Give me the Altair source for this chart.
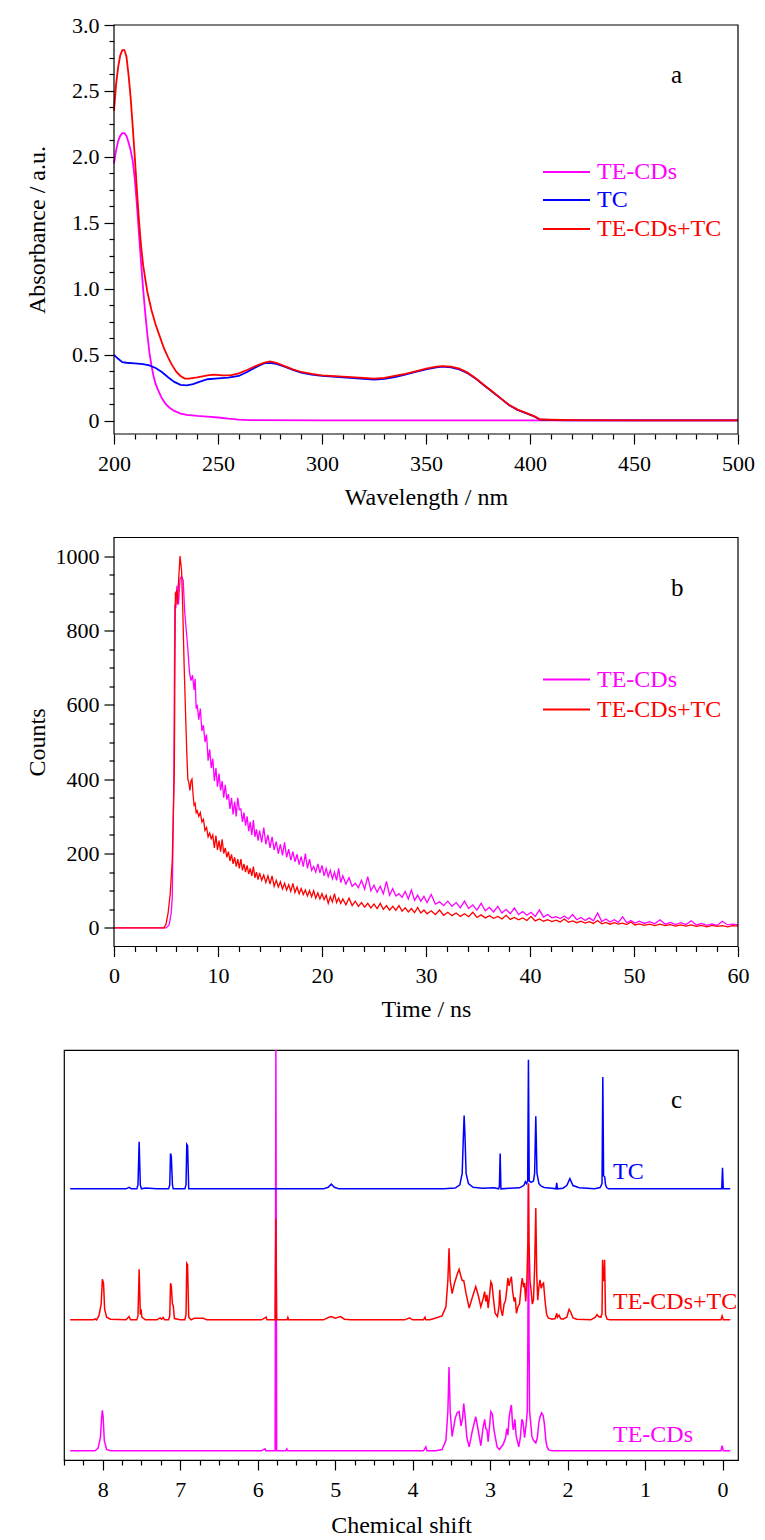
import altair as alt
import pandas as pd

FONT = "Liberation Serif"
MAGENTA = "#FF00FF"
BLUE = "#0000FF"
RED = "#FF0000"

# ---------------- panel a: UV-vis absorbance (wavelength nm, absorbance) ----------------
abs_tecds = [(200, 1.95), (201, 2.05), (202, 2.12), (203, 2.16), (204, 2.18), (205, 2.18), (206, 2.16),
             (207, 2.11), (208, 2.05), (209, 1.97), (210, 1.83), (211, 1.64), (212, 1.42), (213, 1.2),
             (214, 1.0), (215, 0.82), (216, 0.66), (217, 0.52), (218, 0.42), (219, 0.34), (220, 0.28),
             (221, 0.24), (223, 0.17), (225, 0.125), (227, 0.095), (229, 0.075), (232, 0.055), (235, 0.045),
             (240, 0.037), (245, 0.031), (250, 0.025), (255, 0.016), (260, 0.009), (265, 0.005), (300, 0.004),
             (500, 0.004)]
abs_tc = [(200, 0.50), (202, 0.47), (204, 0.445), (206, 0.44), (210, 0.435), (214, 0.43), (217, 0.42),
          (220, 0.40), (223, 0.37), (226, 0.33), (229, 0.295), (232, 0.272), (235, 0.268), (238, 0.278),
          (241, 0.295), (245, 0.315), (250, 0.322), (255, 0.328), (260, 0.34), (264, 0.37), (268, 0.405),
          (272, 0.435), (275, 0.44), (278, 0.432), (282, 0.41), (286, 0.385), (290, 0.365), (295, 0.35),
          (300, 0.34), (310, 0.33), (320, 0.318), (325, 0.312), (330, 0.318), (335, 0.332), (340, 0.35),
          (345, 0.37), (350, 0.39), (355, 0.405), (358, 0.41), (362, 0.405), (366, 0.39), (370, 0.36),
          (374, 0.318), (378, 0.268), (382, 0.218), (386, 0.168), (390, 0.118), (394, 0.083), (398, 0.058),
          (402, 0.033), (405, 0.008), (410, 0.006), (420, 0.004), (450, 0.003), (500, 0.003)]
abs_mix = [(200, 2.35), (201, 2.55), (202, 2.68), (203, 2.77), (204, 2.81), (205, 2.81), (206, 2.76),
           (207, 2.62), (208, 2.45), (209, 2.23), (210, 2.0), (211, 1.75), (212, 1.52), (213, 1.33),
           (214, 1.18), (216, 0.98), (218, 0.84), (220, 0.73), (222, 0.64), (224, 0.55), (226, 0.48),
           (228, 0.42), (230, 0.37), (232, 0.34), (234, 0.32), (236, 0.32), (240, 0.33), (245, 0.345),
           (248, 0.35), (252, 0.345), (256, 0.345), (260, 0.36), (264, 0.385), (268, 0.415), (272, 0.44),
           (275, 0.45), (278, 0.44), (282, 0.415), (286, 0.39), (290, 0.37), (295, 0.355), (300, 0.345),
           (310, 0.335), (320, 0.325), (325, 0.32), (330, 0.325), (335, 0.34), (340, 0.355), (345, 0.375),
           (350, 0.395), (355, 0.41), (358, 0.415), (362, 0.41), (366, 0.395), (370, 0.365), (374, 0.32),
           (378, 0.27), (382, 0.22), (386, 0.17), (390, 0.12), (394, 0.085), (398, 0.06), (402, 0.035),
           (405, 0.01), (410, 0.008), (420, 0.005), (450, 0.004), (500, 0.004)]

# ---------------- panel b: fluorescence decay (time ns, counts) ----------------
decay_tecds = [(0, 0), (2.5, 0), (5.0, 0), (5.3, 8), (5.5, 40), (5.6, 80), (5.75, 400), (5.85, 870),
               (5.95, 860), (6.05, 920), (6.2, 870), (6.35, 940), (6.5, 945), (6.65, 935), (6.8, 850),
               (6.95, 800), (7.1, 750), (7.25, 690), (7.4, 665), (7.55, 680), (7.7, 640), (7.8, 670),
               (7.9, 590), (8.0, 600), (8.15, 560), (8.3, 590), (8.45, 530), (8.6, 545), (8.75, 500),
               (8.9, 520), (9.05, 450), (9.2, 480), (9.35, 430), (9.5, 455), (9.65, 395), (9.8, 430),
               (9.95, 380), (10.1, 415), (10.25, 370), (10.4, 395), (10.55, 350), (10.7, 385), (10.85, 345),
               (11.0, 360), (11.15, 320), (11.3, 350), (11.45, 305), (11.6, 340), (11.75, 300), (11.9, 350),
               (12.05, 318), (12.2, 320), (12.35, 285), (12.5, 310), (12.65, 275), (12.8, 300), (12.95, 260),
               (13.1, 285), (13.25, 250), (13.4, 290), (13.55, 245), (13.7, 265), (13.85, 235), (14.0, 262),
               (14.2, 230), (14.4, 270), (14.6, 225), (14.8, 250), (15.0, 215), (15.2, 245), (15.4, 210),
               (15.6, 232), (15.8, 200), (16.0, 225), (16.2, 195), (16.4, 230), (16.6, 190), (16.8, 212),
               (17.0, 182), (17.2, 205), (17.4, 178), (17.6, 198), (17.8, 170), (18.0, 192), (18.2, 165),
               (18.4, 200), (18.6, 160), (18.8, 185), (19.0, 155), (19.2, 165), (19.4, 150), (19.6, 172),
               (19.8, 148), (20.0, 168), (20.2, 140), (20.4, 160), (20.6, 138), (20.8, 155), (21.0, 132),
               (21.2, 150), (21.4, 128), (21.6, 160), (21.8, 122), (22.0, 140), (22.3, 118), (22.6, 135),
               (22.9, 112), (23.2, 120), (23.5, 108), (23.8, 128), (24.1, 104), (24.4, 138), (24.7, 100),
               (25.0, 115), (25.3, 96), (25.6, 112), (25.9, 92), (26.2, 125), (26.5, 88), (26.8, 106),
               (27.1, 86), (27.4, 92), (27.7, 82), (28.0, 98), (28.3, 78), (28.6, 102), (28.9, 74),
               (29.2, 88), (29.5, 72), (29.8, 85), (30.1, 68), (30.5, 90), (30.9, 64), (31.3, 70),
               (31.7, 60), (32.1, 72), (32.5, 58), (32.9, 68), (33.3, 54), (33.7, 72), (34.1, 52),
               (34.5, 62), (34.9, 48), (35.3, 66), (35.7, 46), (36.1, 55), (36.5, 43), (36.9, 58),
               (37.3, 40), (37.7, 50), (38.1, 38), (38.5, 54), (38.9, 36), (39.3, 44), (39.7, 34),
               (40.1, 42), (40.5, 31), (40.9, 48), (41.3, 29), (41.7, 36), (42.1, 27), (42.5, 30),
               (42.9, 25), (43.3, 32), (43.7, 24), (44.1, 36), (44.5, 22), (44.9, 28), (45.3, 20),
               (45.7, 27), (46.1, 19), (46.5, 40), (46.9, 17), (47.3, 24), (47.7, 16), (48.1, 22),
               (48.5, 15), (48.9, 30), (49.3, 14), (49.7, 20), (50.1, 13), (50.5, 18), (51.0, 12),
               (51.5, 17), (52.0, 11), (52.5, 22), (53.0, 10), (53.5, 15), (54.0, 9), (54.5, 14), (55.0, 9),
               (55.5, 19), (56.0, 8), (56.5, 12), (57.0, 7), (57.5, 11), (58.0, 7), (58.5, 18), (59.0, 8),
               (59.5, 10), (60.0, 8)]
decay_mix = [(0, 0), (2.5, 0), (4.8, 0), (5.0, 10), (5.2, 40), (5.4, 90), (5.6, 180), (5.8, 420),
             (5.9, 900), (6.0, 905), (6.1, 870), (6.2, 930), (6.35, 1000), (6.5, 960), (6.6, 870),
             (6.75, 700), (6.9, 560), (7.0, 470), (7.1, 400), (7.2, 390), (7.3, 370), (7.4, 395),
             (7.5, 400), (7.6, 360), (7.7, 330), (7.8, 335), (7.9, 310), (8.0, 315), (8.15, 300),
             (8.3, 310), (8.45, 285), (8.6, 292), (8.75, 262), (8.9, 270), (9.05, 245), (9.2, 255),
             (9.35, 240), (9.5, 250), (9.65, 215), (9.8, 248), (9.95, 210), (10.1, 235), (10.25, 205),
             (10.4, 238), (10.55, 200), (10.7, 215), (10.85, 190), (11.0, 205), (11.15, 180), (11.3, 198),
             (11.45, 172), (11.6, 190), (11.75, 165), (11.9, 185), (12.05, 160), (12.2, 185), (12.35, 155),
             (12.5, 172), (12.65, 150), (12.8, 168), (12.95, 145), (13.1, 160), (13.25, 140), (13.4, 165),
             (13.55, 135), (13.7, 150), (13.85, 130), (14.0, 148), (14.2, 128), (14.4, 142), (14.6, 122),
             (14.8, 140), (15.0, 118), (15.2, 140), (15.4, 112), (15.6, 128), (15.8, 110), (16.0, 124),
             (16.2, 105), (16.4, 120), (16.6, 102), (16.8, 116), (17.0, 98), (17.2, 120), (17.4, 95),
             (17.6, 110), (17.8, 92), (18.0, 106), (18.2, 90), (18.4, 102), (18.6, 86), (18.8, 100),
             (19.0, 84), (19.2, 100), (19.4, 80), (19.6, 94), (19.8, 78), (20.0, 92), (20.2, 76),
             (20.4, 88), (20.6, 66), (20.8, 84), (21.0, 70), (21.2, 92), (21.4, 68), (21.6, 80),
             (21.8, 66), (22.0, 78), (22.3, 62), (22.6, 80), (22.9, 60), (23.2, 72), (23.5, 58),
             (23.8, 68), (24.1, 56), (24.4, 66), (24.7, 54), (25.0, 64), (25.3, 52), (25.6, 66),
             (25.9, 50), (26.2, 60), (26.5, 48), (26.8, 58), (27.1, 47), (27.4, 60), (27.7, 45),
             (28.0, 54), (28.3, 43), (28.6, 52), (28.9, 41), (29.2, 55), (29.5, 40), (29.8, 48),
             (30.1, 38), (30.5, 46), (30.9, 36), (31.3, 48), (31.7, 34), (32.1, 42), (32.5, 33),
             (32.9, 40), (33.3, 31), (33.7, 38), (34.1, 30), (34.5, 42), (34.9, 28), (35.3, 35),
             (35.7, 27), (36.1, 33), (36.5, 26), (36.9, 31), (37.3, 24), (37.7, 34), (38.1, 23),
             (38.5, 28), (38.9, 22), (39.3, 27), (39.7, 20), (40.1, 31), (40.5, 19), (40.9, 24),
             (41.3, 18), (41.7, 22), (42.1, 17), (42.5, 21), (42.9, 16), (43.3, 24), (43.7, 15),
             (44.1, 19), (44.5, 14), (44.9, 18), (45.3, 13), (45.7, 17), (46.1, 12), (46.5, 20),
             (46.9, 11), (47.3, 15), (47.7, 10), (48.1, 14), (48.5, 10), (48.9, 13), (49.3, 9),
             (49.7, 16), (50.1, 8), (50.5, 11), (51.0, 7), (51.5, 10), (52.0, 6), (52.5, 10), (53.0, 6),
             (53.5, 9), (54.0, 5), (54.5, 8), (55.0, 5), (55.5, 8), (56.0, 4), (56.5, 7), (57.0, 3),
             (57.5, 7), (58.0, 4), (58.5, 6), (59.0, 3), (59.5, 6), (60.0, 5)]

# ---------------- panel c: 1H NMR (ppm, intensity above own baseline) ----------------
nmr_tc = [(8.42, 0.0), (7.70, 0.0), (7.66, 0.012), (7.63, 0.0), (7.56, 0.0), (7.545, 0.03), (7.53, 0.36),
          (7.515, 0.03), (7.50, 0.0), (7.45, 0.006), (7.30, 0.0), (7.15, 0.0), (7.135, 0.03), (7.125, 0.27),
          (7.115, 0.25), (7.10, 0.03), (7.09, 0.0), (6.94, 0.0), (6.925, 0.03), (6.915, 0.34), (6.905, 0.33),
          (6.89, 0.0), (5.15, 0.0), (5.09, 0.012), (5.05, 0.036), (5.01, 0.012), (4.95, 0.0), (3.60, 0.0),
          (3.45, 0.006), (3.39, 0.03), (3.36, 0.12), (3.345, 0.40), (3.335, 0.56), (3.325, 0.42), (3.31, 0.12),
          (3.28, 0.04), (3.22, 0.012), (3.10, 0.005), (2.95, 0.008), (2.89, 0.0), (2.88, 0.02), (2.87, 0.27),
          (2.86, 0.0), (2.75, 0.005), (2.62, 0.008), (2.58, 0.02), (2.56, 0.03), (2.545, 0.055), (2.53, 0.04),
          (2.515, 0.06), (2.505, 0.985), (2.495, 0.06), (2.47, 0.05), (2.44, 0.06), (2.425, 0.12),
          (2.41, 0.555), (2.395, 0.12), (2.37, 0.04), (2.34, 0.02), (2.30, 0.01), (2.20, 0.005), (2.15, 0.0),
          (2.14, 0.045), (2.13, 0.0), (2.06, 0.005), (2.01, 0.025), (1.97, 0.078), (1.93, 0.025), (1.85, 0.008),
          (1.65, 0.0), (1.58, 0.01), (1.555, 0.04), (1.545, 0.853), (1.535, 0.1), (1.52, 0.09), (1.51, 0.03),
          (1.495, 0.01), (1.47, 0.0), (0.02, 0.0), (0.01, 0.0), (0.0, 0.16), (-0.01, 0.0), (-0.10, 0.0)]
nmr_mix = [(8.42, 0.0), (8.12, 0.0), (8.10, 0.008), (8.08, 0.0), (8.05, 0.03), (8.02, 0.12), (8.005, 0.31),
           (7.99, 0.28), (7.975, 0.08), (7.95, 0.02), (7.90, 0.005), (7.70, 0.0), (7.66, 0.025), (7.64, 0.0),
           (7.56, 0.0), (7.545, 0.03), (7.53, 0.386), (7.515, 0.04), (7.505, 0.08), (7.495, 0.02), (7.45, 0.0),
           (7.30, 0.0), (7.26, 0.015), (7.24, 0.005), (7.22, 0.018), (7.20, 0.0), (7.15, 0.0), (7.135, 0.03),
           (7.125, 0.28), (7.115, 0.26), (7.10, 0.12), (7.09, 0.11), (7.075, 0.01), (7.0, 0.0), (6.94, 0.0),
           (6.925, 0.04), (6.915, 0.43), (6.905, 0.42), (6.89, 0.02), (6.86, 0.0), (6.82, 0.012), (6.70, 0.012),
           (6.66, 0.0), (5.95, 0.0), (5.89, 0.02), (5.88, 0.0), (5.775, 0.0), (5.765, 0.776), (5.755, 0.0),
           (5.62, 0.0), (5.61, 0.018), (5.60, 0.0), (5.15, 0.0), (5.08, 0.02), (5.05, 0.025), (5.0, 0.012),
           (4.93, 0.025), (4.88, 0.005), (4.80, 0.0), (4.10, 0.0), (4.04, 0.015), (4.00, 0.0), (3.86, 0.0),
           (3.84, 0.02), (3.83, 0.0), (3.78, 0.0), (3.72, 0.01), (3.62, 0.03), (3.57, 0.1), (3.545, 0.30),
           (3.53, 0.547), (3.515, 0.3), (3.49, 0.2), (3.46, 0.28), (3.42, 0.356), (3.40, 0.385), (3.38, 0.34),
           (3.36, 0.3), (3.34, 0.3), (3.31, 0.2), (3.27, 0.09), (3.23, 0.17), (3.185, 0.254), (3.15, 0.18),
           (3.12, 0.1), (3.09, 0.16), (3.07, 0.216), (3.055, 0.14), (3.04, 0.19), (3.025, 0.09), (3.005, 0.2),
           (2.99, 0.29), (2.975, 0.27), (2.955, 0.15), (2.935, 0.05), (2.905, 0.025), (2.885, 0.1),
           (2.875, 0.23), (2.86, 0.08), (2.84, 0.03), (2.82, 0.12), (2.80, 0.15), (2.785, 0.23), (2.77, 0.318),
           (2.755, 0.26), (2.74, 0.3), (2.725, 0.33), (2.71, 0.22), (2.69, 0.14), (2.675, 0.17), (2.66, 0.05),
           (2.64, 0.1), (2.62, 0.12), (2.60, 0.25), (2.585, 0.318), (2.57, 0.26), (2.555, 0.28), (2.54, 0.14),
           (2.525, 0.3), (2.512, 0.6), (2.505, 1.04), (2.498, 0.6), (2.485, 0.3), (2.47, 0.22), (2.455, 0.12),
           (2.44, 0.15), (2.425, 0.4), (2.41, 0.853), (2.398, 0.35), (2.385, 0.15), (2.37, 0.25),
           (2.356, 0.305), (2.34, 0.24), (2.325, 0.27), (2.31, 0.28), (2.29, 0.14), (2.27, 0.04),
           (2.25, 0.015), (2.20, 0.005), (2.16, 0.01), (2.15, 0.03), (2.14, 0.05), (2.13, 0.02), (2.11, 0.035),
           (2.09, 0.01), (2.06, 0.005), (2.01, 0.02), (1.98, 0.08), (1.96, 0.06), (1.93, 0.015), (1.88, 0.005),
           (1.70, 0.0), (1.64, 0.02), (1.62, 0.04), (1.60, 0.025), (1.57, 0.02), (1.555, 0.05), (1.548, 0.458),
           (1.54, 0.3), (1.53, 0.3), (1.522, 0.458), (1.51, 0.04), (1.49, 0.005), (1.45, 0.0), (0.02, 0.0),
           (0.005, 0.03), (-0.01, 0.0), (-0.10, 0.0)]
nmr_tecds = [(8.42, 0.0), (8.10, 0.0), (8.06, 0.02), (8.03, 0.1), (8.015, 0.25), (8.005, 0.31), (7.995, 0.26),
             (7.98, 0.08), (7.95, 0.01), (7.90, 0.0), (5.95, 0.0), (5.905, 0.015), (5.895, 0.0), (5.775, 0.0),
             (5.765, 3.06), (5.755, 0.0), (5.64, 0.0), (5.625, 0.015), (5.615, 0.0), (3.86, 0.0), (3.83, 0.03),
             (3.815, 0.0), (3.70, 0.0), (3.62, 0.01), (3.57, 0.08), (3.545, 0.3), (3.53, 0.64), (3.515, 0.3),
             (3.49, 0.11), (3.45, 0.25), (3.425, 0.29), (3.40, 0.30), (3.375, 0.19), (3.355, 0.25), (3.34, 0.36),
             (3.32, 0.25), (3.30, 0.1), (3.27, 0.03), (3.23, 0.15), (3.185, 0.26), (3.16, 0.18), (3.12, 0.04),
             (3.09, 0.18), (3.07, 0.24), (3.055, 0.17), (3.04, 0.16), (3.025, 0.07), (3.005, 0.2), (2.99, 0.30),
             (2.97, 0.28), (2.95, 0.16), (2.91, 0.03), (2.88, 0.01), (2.83, 0.05), (2.80, 0.1), (2.785, 0.17),
             (2.77, 0.12), (2.755, 0.25), (2.74, 0.31), (2.725, 0.35), (2.71, 0.2), (2.70, 0.16), (2.68, 0.24),
             (2.665, 0.12), (2.65, 0.08), (2.63, 0.03), (2.61, 0.1), (2.59, 0.24), (2.575, 0.22), (2.555, 0.1),
             (2.535, 0.2), (2.52, 0.3), (2.512, 0.9), (2.505, 2.04), (2.498, 0.9), (2.49, 0.3), (2.48, 0.24),
             (2.46, 0.11), (2.44, 0.08), (2.41, 0.06), (2.39, 0.1), (2.37, 0.22), (2.355, 0.26), (2.335, 0.29),
             (2.315, 0.27), (2.30, 0.21), (2.28, 0.08), (2.265, 0.03), (2.24, 0.005), (2.20, 0.0), (0.02, 0.0),
             (0.005, 0.04), (-0.01, 0.0), (-0.10, 0.0)]

legend_a = ["TE-CDs", "TC", "TE-CDs+TC"]
legend_b = ["TE-CDs", "TE-CDs+TC"]
nmr_labels = ["TC", "TE-CDs+TC", "TE-CDs"]
panel_letters = ["a", "b", "c"]

YA_DOMAIN = [-0.1, 3.0]
YB_DOMAIN = [-50, 1050]
XC_DOMAIN = [8.5, -0.2]
YC_DOMAIN = [-0.07, 3.06]
NMR_OFFSETS = [2, 1, 0]

# layout (pixels): all three groups start at the left edge of panel c; panels a and b
# leave an empty 50 px strip on their left, their frame starts after it.
W = 674          # width of every group (panel c plot width)
SHIFT = 50       # left strip of panels a and b
W_AB = W - SHIFT
H_AB = 409
H_C = 410
# the x domains of panels a/b are stretched so that the visible frame starts at 200 nm / 0 ns
XA_DOMAIN = [200 - SHIFT * 300 / W_AB, 500]
XB_DOMAIN = [0 - SHIFT * 60 / W_AB, 60]


def frame(points, offset=0.0):
    xs, ys = zip(*points)
    return pd.DataFrame({"x": list(xs), "y": [v + offset for v in ys]})


def tick_size(test):
    return {"condition": {"test": test, "value": 10}, "value": 5}


def axis(values, test, fmt, title, title_pos, orient, shifted):
    kw = dict(
        values=values,
        tickCount=len(values),
        labelExpr=f"({test}) ? {fmt} : ''",
        tickSize=tick_size(test),
        labelFlush=False,
        labelOverlap=False,
        labelFont=FONT,
        labelFontSize=22,
        title=title,
        titleFont=FONT,
        titleFontSize=24,
        titleFontWeight="normal",
    )
    if orient == "bottom":
        kw.update(labelBaseline="middle", labelPadding=19, titleY=title_pos, titleBaseline="middle")
        if shifted:
            kw.update(domain=False, titleX=SHIFT + W_AB / 2)
    else:
        kw.update(labelPadding=5, titleX=title_pos, titleY=H_AB / 2, titleBaseline="middle",
                  domain=False, offset=-SHIFT)
    return alt.Axis(**kw)


def one(label):
    return pd.DataFrame({"t": [label]})


def box(h):
    return alt.Chart(one("frame")).mark_rect(fill="transparent", stroke="black", strokeWidth=1.2).encode(
        x=alt.value(SHIFT), x2=alt.value(W), y=alt.value(0), y2=alt.value(h))


def legend_layers(labels, colors, ys):
    out = []
    for lab, col, yy in zip(labels, colors, ys):
        d = one(lab)
        out.append(alt.Chart(d).mark_rule(color=col, strokeWidth=2).encode(
            x=alt.value(SHIFT + 429), x2=alt.value(SHIFT + 476), y=alt.value(yy)))
        out.append(alt.Chart(d).mark_text(align="left", baseline="middle", font=FONT, fontSize=24,
                                          color=col).encode(
            text="t:N", x=alt.value(SHIFT + 483), y=alt.value(yy)))
    return out


def letter(lab):
    return alt.Chart(one(lab)).mark_text(align="left", baseline="middle", font=FONT, fontSize=25,
                                         color="black").encode(text="t:N", x=alt.value(SHIFT + 557),
                                                               y=alt.value(50))


# ---------------- panel a ----------------
xa_vals = list(range(200, 501, 10))
ya_vals = [i * 0.125 for i in range(0, 25)]
xa = alt.X("x:Q", scale=alt.Scale(domain=XA_DOMAIN, nice=False, zero=False),
           axis=axis(xa_vals, "datum.value % 50 === 0", "format(datum.value, 'd')", "Wavelength / nm", 63,
                     "bottom", True))
ya = alt.Y("y:Q", scale=alt.Scale(domain=YA_DOMAIN, nice=False, zero=False),
           axis=axis(ya_vals, "abs(datum.value * 2 - round(datum.value * 2)) < 0.000001",
                     "(datum.value === 0 ? '0' : format(datum.value, '.1f'))", "Absorbance / a.u.", -77, "left",
                     True))

a_layers = []
for pts, col in [(abs_tecds, MAGENTA), (abs_tc, BLUE), (abs_mix, RED)]:
    a_layers.append(alt.Chart(frame(pts)).mark_line(color=col, strokeWidth=1.8).encode(x=xa, y=ya))
a_layers.append(box(H_AB))
a_layers += legend_layers(legend_a, [MAGENTA, BLUE, RED], [147, 175, 204])
a_layers.append(letter(panel_letters[0]))
panel_a = alt.layer(*a_layers).properties(width=W, height=H_AB,
                                          view=alt.ViewBackground(stroke="transparent"))

# ---------------- panel b ----------------
xb_vals = list(range(0, 61, 2))
yb_vals = list(range(0, 1001, 50))
xb = alt.X("x:Q", scale=alt.Scale(domain=XB_DOMAIN, nice=False, zero=False),
           axis=axis(xb_vals, "datum.value % 10 === 0", "format(datum.value, 'd')", "Time / ns", 63, "bottom",
                     True))
yb = alt.Y("y:Q", scale=alt.Scale(domain=YB_DOMAIN, nice=False, zero=False),
           axis=axis(yb_vals, "datum.value % 200 === 0", "format(datum.value, 'd')", "Counts", -77, "left", True))
b_layers = []
for pts, col in [(decay_tecds, MAGENTA), (decay_mix, RED)]:
    b_layers.append(alt.Chart(frame(pts)).mark_line(color=col, strokeWidth=1.3).encode(x=xb, y=yb))
b_layers.append(box(H_AB))
b_layers += legend_layers(legend_b, [MAGENTA, RED], [142, 172])
b_layers.append(letter(panel_letters[1]))
panel_b = alt.layer(*b_layers).properties(width=W, height=H_AB,
                                          view=alt.ViewBackground(stroke="transparent"))

# ---------------- panel c ----------------
xc_vals = [8.5 - i * 0.25 for i in range(0, 35)]
xc = alt.X("x:Q", scale=alt.Scale(domain=XC_DOMAIN, nice=False, zero=False),
           axis=axis(xc_vals, "abs(datum.value - round(datum.value)) < 0.000001", "format(datum.value, 'd')",
                     "Chemical shift", 65, "bottom", False))
yc = alt.Y("y:Q", scale=alt.Scale(domain=YC_DOMAIN, nice=False, zero=False), axis=None)
c_layers = []
for pts, col, off in [(nmr_tecds, MAGENTA, NMR_OFFSETS[2]), (nmr_mix, RED, NMR_OFFSETS[1]),
                      (nmr_tc, BLUE, NMR_OFFSETS[0])]:
    c_layers.append(alt.Chart(frame(pts, off)).mark_line(color=col, strokeWidth=1.5).encode(x=xc, y=yc))
for lab, col, yy in zip(nmr_labels, [BLUE, RED, MAGENTA], [122, 252, 385]):
    c_layers.append(alt.Chart(one(lab)).mark_text(align="left", baseline="middle", font=FONT, fontSize=24,
                                                  color=col).encode(text="t:N", x=alt.value(SHIFT + 499),
                                                                    y=alt.value(yy)))
c_layers.append(letter(panel_letters[2]))
panel_c = alt.layer(*c_layers).properties(width=W, height=H_C)

chart = alt.vconcat(panel_a, panel_b, panel_c, spacing=103.5, bounds="flush").properties(
    padding={"left": 16, "top": 5, "right": 0, "bottom": 0}
).configure(font=FONT).configure_view(stroke="black", strokeWidth=1.2).configure_axis(
    labelFont=FONT, titleFont=FONT, labelFontSize=22, titleFontSize=24, labelColor="black",
    titleColor="black", titleFontWeight="normal", domainColor="black", tickColor="black",
    grid=False, domainWidth=1.2, tickWidth=1.2
)

chart.save("out.html", embed_options={"renderer": "svg", "actions": False})
